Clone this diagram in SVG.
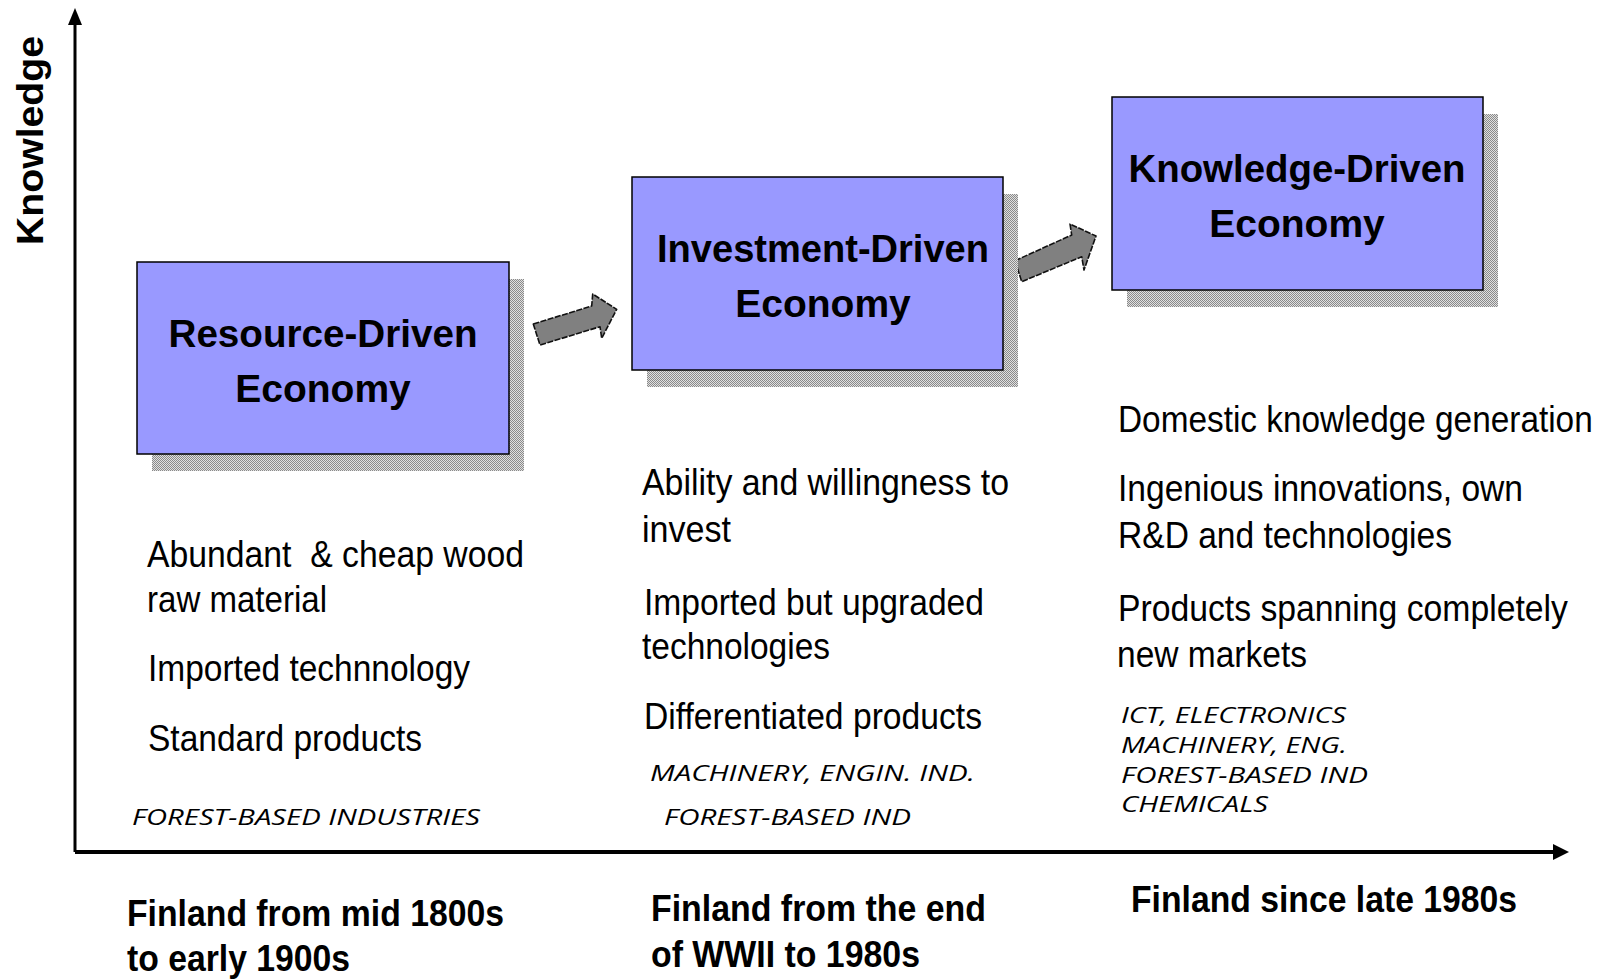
<svg xmlns="http://www.w3.org/2000/svg" width="1603" height="979" viewBox="0 0 1603 979">
<defs>
<pattern id="dither" width="2" height="2" patternUnits="userSpaceOnUse">
<rect width="2" height="2" fill="#e0e0e0"/>
<rect x="0" y="0" width="1" height="1" fill="#8a8a8a"/>
<rect x="1" y="1" width="1" height="1" fill="#8a8a8a"/>
</pattern>
</defs>
<style>
.shadow{fill:url(#dither);}
.box{fill:#9999FF;stroke:#000;stroke-width:1.5;}
.title{font-family:"Liberation Sans",Arial,sans-serif;font-weight:bold;font-size:39px;fill:#000;text-anchor:middle;}
.body{font-family:"Liberation Sans",Arial,sans-serif;font-size:37px;fill:#000;}
.ind{font-family:"Open Sans","Noto Sans",sans-serif;font-style:italic;font-size:22.5px;fill:#000;}
.era{font-family:"Liberation Sans",Arial,sans-serif;font-weight:bold;font-size:37px;fill:#000;}
.axis{stroke:#000;fill:none;}
.flow{fill:#808080;stroke:#111;stroke-width:1.6;stroke-dasharray:6 1.5;stroke-linejoin:round;}
</style>
<rect width="1603" height="979" fill="#fff"/>

<g id="axes">
<line class="axis" x1="75" y1="852" x2="75" y2="20" stroke-width="3"/>
<polygon points="75,8 68,25 82,25" fill="#000"/>
<line class="axis" x1="75" y1="852" x2="1556" y2="852" stroke-width="4"/>
<polygon points="1569,852 1553,844 1553,860" fill="#000"/>
<text class="era" transform="translate(43,245) rotate(-90)" x="0" y="0" font-size="33" textLength="209" lengthAdjust="spacingAndGlyphs">Knowledge</text>
</g>

<g id="connectors">
<polygon class="flow" points="533.3,324 591.7,306 592.7,294 616.7,309.3 601.7,338.3 600,326.7 540,345"/>
<polygon class="flow" points="1015,260.7 1071.7,235 1070,224 1096,236 1084,270 1081.7,256.7 1021.7,281.7"/>
</g>

<g id="resource-driven">
<rect class="shadow" x="152" y="279" width="372" height="192"/>
<rect class="box" x="137" y="262" width="372" height="192"/>
<text class="title" x="323" y="347" textLength="309" lengthAdjust="spacingAndGlyphs">Resource-Driven</text>
<text class="title" x="323" y="402">Economy</text>
</g>

<g id="investment-driven">
<rect class="shadow" x="647" y="194" width="371" height="193"/>
<rect class="box" x="632" y="177" width="371" height="193"/>
<text class="title" x="823" y="262" textLength="332" lengthAdjust="spacingAndGlyphs">Investment-Driven</text>
<text class="title" x="823" y="317">Economy</text>
</g>

<g id="knowledge-driven">
<rect class="shadow" x="1127" y="114" width="371" height="193"/>
<rect class="box" x="1112" y="97" width="371" height="193"/>
<text class="title" x="1297" y="182" textLength="337" lengthAdjust="spacingAndGlyphs">Knowledge-Driven</text>
<text class="title" x="1297" y="237">Economy</text>
</g>

<g id="resource-details">
<text class="body" x="147" y="567" textLength="377" lengthAdjust="spacingAndGlyphs">Abundant&#160; &amp; cheap wood</text>
<text class="body" x="147" y="612" textLength="180" lengthAdjust="spacingAndGlyphs">raw material</text>
<text class="body" x="148" y="681" textLength="322" lengthAdjust="spacingAndGlyphs">Imported technnology</text>
<text class="body" x="148" y="751" textLength="274" lengthAdjust="spacingAndGlyphs">Standard products</text>
<text class="ind" x="132" y="825" textLength="348" lengthAdjust="spacingAndGlyphs">FOREST-BASED INDUSTRIES</text>
</g>

<g id="investment-details">
<text class="body" x="642" y="495" textLength="367" lengthAdjust="spacingAndGlyphs">Ability and willingness to</text>
<text class="body" x="642" y="542" textLength="89" lengthAdjust="spacingAndGlyphs">invest</text>
<text class="body" x="644" y="615" textLength="340" lengthAdjust="spacingAndGlyphs">Imported but upgraded</text>
<text class="body" x="642" y="659" textLength="188" lengthAdjust="spacingAndGlyphs">technologies</text>
<text class="body" x="644" y="729" textLength="338" lengthAdjust="spacingAndGlyphs">Differentiated products</text>
<text class="ind" x="650" y="781" textLength="325" lengthAdjust="spacingAndGlyphs">MACHINERY, ENGIN. IND.</text>
<text class="ind" x="664" y="825" textLength="247" lengthAdjust="spacingAndGlyphs">FOREST-BASED IND</text>
</g>

<g id="knowledge-details">
<text class="body" transform="translate(1118,432) scale(0.902,1)" x="0" y="0">Domestic knowledge generation</text>
<text class="body" x="1118" y="501" textLength="405" lengthAdjust="spacingAndGlyphs">Ingenious innovations, own</text>
<text class="body" x="1118" y="548" textLength="334" lengthAdjust="spacingAndGlyphs">R&amp;D and technologies</text>
<text class="body" transform="translate(1118,621) scale(0.912,1)" x="0" y="0">Products spanning completely</text>
<text class="body" x="1117" y="667" textLength="190" lengthAdjust="spacingAndGlyphs">new markets</text>
<text class="ind" x="1121" y="723" textLength="225" lengthAdjust="spacingAndGlyphs">ICT, ELECTRONICS</text>
<text class="ind" x="1121" y="753" textLength="226" lengthAdjust="spacingAndGlyphs">MACHINERY, ENG.</text>
<text class="ind" x="1121" y="783" textLength="247" lengthAdjust="spacingAndGlyphs">FOREST-BASED IND</text>
<text class="ind" x="1121" y="812" textLength="147" lengthAdjust="spacingAndGlyphs">CHEMICALS</text>
</g>

<g id="eras">
<text class="era" x="127" y="926" textLength="377" lengthAdjust="spacingAndGlyphs">Finland from mid 1800s</text>
<text class="era" x="127" y="971" textLength="223" lengthAdjust="spacingAndGlyphs">to early 1900s</text>
<text class="era" x="651" y="921" textLength="335" lengthAdjust="spacingAndGlyphs">Finland from the end</text>
<text class="era" x="651" y="967" textLength="269" lengthAdjust="spacingAndGlyphs">of WWII to 1980s</text>
<text class="era" x="1131" y="912" textLength="386" lengthAdjust="spacingAndGlyphs">Finland since late 1980s</text>
</g>
</svg>
